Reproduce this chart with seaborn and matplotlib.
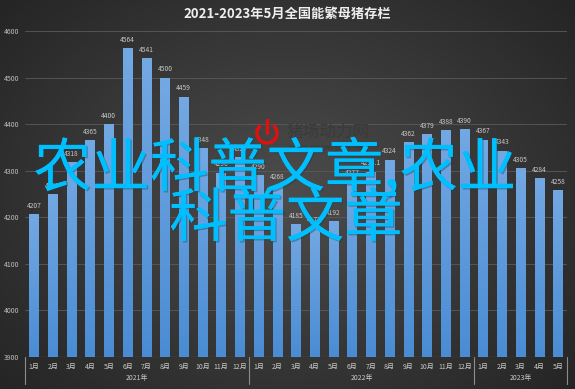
import numpy as np
import pandas as pd
import matplotlib
matplotlib.use('Agg')
import matplotlib.pyplot as plt
import seaborn as sns
from matplotlib.patches import Arc
import matplotlib.patheffects as pe

# data
years = ['2021年', '2022年', '2023年']
months_per_year = [12, 12, 5]
values_2021 = [4207, 4249, 4318, 4365, 4400, 4564, 4541, 4500, 4459, 4348, 4296, 4329]
values_2022 = [4290, 4268, 4185, 4177, 4192, 4277, 4298.1, 4324, 4362, 4379, 4388, 4390]
values_2023 = [4367, 4343, 4305, 4284, 4258]
yticks = [3900, 4000, 4100, 4200, 4300, 4400, 4500, 4600]

title = '2021-2023年5月全国能繁母猪存栏'

month_labels = []
keys = []
for y, n in zip(years, months_per_year):
    for m in range(1, n + 1):
        month_labels.append(f'{m}月')
        keys.append(f'{y}{m}月')
df = pd.DataFrame({'key': keys, 'month': month_labels,
                   'value': values_2021 + values_2022 + values_2023})

sns.set_style('dark')
plt.rcParams['font.family'] = ['Noto Sans CJK SC', 'DejaVu Sans']

fig = plt.figure(figsize=(5.75, 3.89), dpi=100)

# dark radial background
bg = fig.add_axes([0, 0, 1, 1], zorder=-10)
gx, gy = np.meshgrid(np.linspace(-1, 1, 300), np.linspace(-1, 1, 200))
r = np.sqrt((gx * 0.9) ** 2 + (gy * 0.8) ** 2)
shade = np.clip(0.30 - 0.13 * r, 0.14, 0.3)
bg.imshow(np.dstack([shade, shade, shade]), aspect='auto', extent=[0, 1, 0, 1])
bg.axis('off')

ax = fig.add_axes([24.6 / 575, 32 / 389, 542.8 / 575, 326 / 389])
ax.set_facecolor('none')
sns.barplot(data=df, x='key', y='value', color='#5b9bd5', width=0.5,
            ax=ax, zorder=3)

# gradient fill on bars
grad = np.linspace(0, 1, 100).reshape(-1, 1)
top_c = np.array([0.45, 0.66, 0.89])
bot_c = np.array([0.29, 0.55, 0.83])
img = top_c * (1 - grad[..., None]) + bot_c * grad[..., None]
img = img.reshape(100, 1, 3)
for p in ax.patches:
    x0, w, h = p.get_x(), p.get_width(), p.get_height()
    p.set_facecolor('none')
    p.set_edgecolor('none')
    im = ax.imshow(img, extent=[x0, x0 + w, 3900, h], aspect='auto', zorder=3)
    im.set_clip_path(p)

ax.set_ylim(3900, 4600)
ax.set_xlim(-0.5, len(df) - 0.5)
ax.set_yticks(yticks)
ax.set_yticklabels([str(t) for t in yticks], fontsize=5, color='#bdbdbd')
ax.set_xticks(range(len(df)))
ax.set_xticklabels(df['month'], fontsize=5, color='#c8c8c8')
ax.tick_params(axis='both', length=0, pad=4)
ax.set_xlabel('')
ax.set_ylabel('')
ax.grid(axis='y', color='#5a5a5a', linewidth=0.6, zorder=0)
ax.grid(axis='x', visible=False)
for s in ax.spines.values():
    s.set_visible(False)
ax.axhline(3900, color='#8c8c8c', linewidth=0.8, zorder=4)

# data labels
for i, v in enumerate(df['value']):
    txt = f'{v:g}'
    ax.text(i, v + 9, txt, ha='center', va='bottom', fontsize=4.8,
            color='#c8c8c8', zorder=5)

# multi-level axis: year labels and separators
trans = ax.get_xaxis_transform()
bounds = np.cumsum([0] + months_per_year) - 0.5
for b in bounds:
    ax.plot([b, b], [0, -0.083], transform=trans, color='#8c8c8c',
            linewidth=0.8, clip_on=False)
for y, a, b in zip(years, bounds[:-1], bounds[1:]):
    ax.text((a + b) / 2, -0.064, y, transform=trans, ha='center', va='center',
            fontsize=5, color='#c8c8c8')

fig.text(0.5, 1 - 14 / 389, title, ha='center', va='center', fontsize=9.5,
         color='#eeeeee', fontweight='bold')

# site watermark
fig.text(287 / 575, 1 - 132 / 389, '猪场动力网', ha='left', va='center',
         fontsize=12, color='#3a3a3a', zorder=20)
fig.text(289 / 575, 1 - 147 / 389, 'www.powerpigs.net', ha='left', va='center',
         fontsize=6, color='#3a3a3a', zorder=20)
arc = Arc((267 / 575, 1 - 133 / 389), 20 / 575, 20 / 389, theta1=120, theta2=420,
          transform=fig.transFigure, color='#e01010', linewidth=2.5, zorder=20)
fig.add_artist(arc)
fig.add_artist(plt.Line2D([267 / 575, 267 / 575], [1 - 120 / 389, 1 - 133 / 389],
                          transform=fig.transFigure, color='#e01010',
                          linewidth=2.5, zorder=20))

# overlay text
shadow = [pe.withSimplePatchShadow(offset=(1, -1), shadow_rgbFace='#1f3f55', alpha=0.4),
          pe.Normal()]
fig.text(275 / 575, 1 - 170 / 389, '农业科普文章,农业', ha='center', va='center',
         fontsize=42, color='#00bfff', fontweight='medium', zorder=30,
         path_effects=shadow)
fig.text(286 / 575, 1 - 220 / 389, '科普文章', ha='center', va='center',
         fontsize=42, color='#00bfff', fontweight='medium', zorder=30,
         path_effects=shadow)

fig.savefig('out.png', dpi=100)
